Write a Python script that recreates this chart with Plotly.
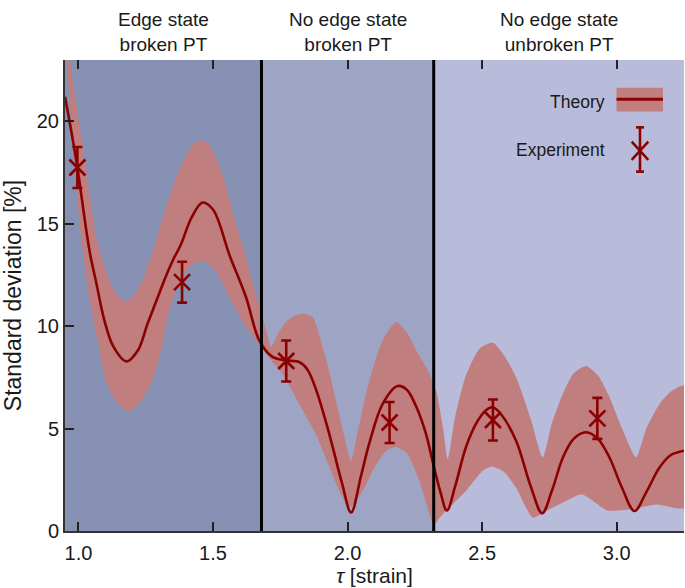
import plotly.graph_objects as go

# ---------------- data ----------------
theory_x = [0.950, 0.975, 0.996, 1.015, 1.030, 1.045, 1.065, 1.096, 1.130, 1.178,
            1.220, 1.257, 1.300, 1.319, 1.350, 1.381, 1.420, 1.461, 1.500, 1.561,
            1.622, 1.672, 1.721, 1.771, 1.820, 1.850, 1.883, 1.920, 1.945, 1.980,
            2.013, 2.050, 2.081, 2.130, 2.186, 2.220, 2.254, 2.290, 2.316, 2.345,
            2.369, 2.400, 2.440, 2.480, 2.514, 2.539, 2.570, 2.626, 2.680, 2.723,
            2.760, 2.800, 2.840, 2.886, 2.930, 2.973, 3.020, 3.066, 3.110, 3.159,
            3.200, 3.250]
theory_y = [21.2, 19.4, 17.75, 16.0, 14.6, 13.4, 12.2, 10.3, 9.0, 8.28,
            8.8, 10.13, 11.6, 12.25, 13.2, 14.0, 15.3, 16.04, 15.7, 13.48,
            11.44, 9.31, 8.5, 8.33, 8.25, 7.9, 6.9, 5.3, 4.08, 2.3,
            0.9, 2.7, 4.3, 6.2, 7.08, 6.9, 6.1, 4.8, 3.4, 1.9,
            1.0, 2.2, 4.1, 5.3, 5.9, 6.04, 5.7, 4.41, 2.2, 0.87,
            2.0, 3.59, 4.5, 4.82, 4.5, 3.59, 2.1, 0.98, 1.9, 3.1,
            3.7, 3.92]

upper_x = [0.950, 0.965, 0.990, 1.015, 1.040, 1.065, 1.090, 1.114, 1.145, 1.176,
           1.205, 1.238, 1.280, 1.330, 1.380, 1.420, 1.455, 1.490, 1.540, 1.580,
           1.616, 1.635, 1.660, 1.684, 1.697, 1.716, 1.740, 1.770, 1.808, 1.840,
           1.870, 1.920, 1.960, 1.990, 2.013, 2.040, 2.080, 2.130, 2.180, 2.220,
           2.260, 2.300, 2.330, 2.355, 2.372, 2.400, 2.440, 2.490, 2.539, 2.580,
           2.626, 2.680, 2.725, 2.760, 2.800, 2.840, 2.886, 2.930, 2.973, 3.020,
           3.072, 3.110, 3.159, 3.200, 3.250]
upper_y = [24.5, 23.3, 21.0, 18.9, 16.6, 14.46, 13.2, 12.25, 11.5, 11.19,
           11.5, 12.25, 13.8, 16.0, 17.8, 18.8, 19.08, 18.8, 17.2, 15.2,
           13.7, 12.75, 11.5, 10.46, 9.8, 9.0, 9.6, 10.2, 10.54, 10.6,
           10.45, 8.4, 6.2, 4.5, 3.43, 5.0, 7.3, 9.3, 10.21, 9.7,
           8.7, 7.8, 6.8, 5.0, 3.5, 5.6, 7.6, 8.9, 9.2, 8.6,
           7.52, 5.5, 3.59, 5.3, 6.7, 7.7, 8.06, 7.6, 6.54, 5.0,
           3.59, 5.0, 6.2, 6.8, 7.1]

lower_x = [0.950, 0.953, 0.980, 1.009, 1.040, 1.070, 1.102, 1.140, 1.186, 1.230,
           1.275, 1.310, 1.337, 1.380, 1.420, 1.465, 1.510, 1.560, 1.622, 1.678,
           1.718, 1.758, 1.820, 1.883, 1.930, 1.969, 2.006, 2.056, 2.100, 2.143,
           2.180, 2.220, 2.267, 2.300, 2.320, 2.345, 2.378, 2.440, 2.502, 2.535,
           2.580, 2.626, 2.688, 2.740, 2.800, 2.870, 2.930, 2.965, 3.050, 3.150,
           3.250]
lower_y = [23.5, 23.3, 18.9, 14.46, 11.44, 9.4, 7.35, 6.3, 5.83, 6.3,
           7.35, 9.0, 10.78, 12.3, 13.0, 13.19, 12.7, 11.44, 9.97, 9.0,
           8.3, 7.68, 6.2, 4.7, 3.2, 1.96, 1.14, 1.96, 3.1, 3.92,
           4.1, 3.8, 2.45, 1.0, 0.3, 0.7, 1.14, 1.96, 2.94, 3.15,
           2.9, 2.12, 0.65, 1.0, 1.39, 1.8, 1.3, 1.0, 1.06, 1.3,
           1.14]

exp_x = [0.996, 1.385, 1.772, 2.156, 2.540, 2.928]
exp_y = [17.75, 12.15, 8.30, 5.30, 5.42, 5.50]
exp_err = [1.0, 1.0, 1.0, 1.0, 1.0, 1.0]

region_edges = [0.95, 1.68, 2.32, 3.25]
region_labels = ["Edge state<br>broken PT", "No edge state<br>broken PT",
                 "No edge state<br>unbroken PT"]
region_colors = ["#8691B3", "#9EA5C4", "#B8BBDA"]

x_ticks = [1.0, 1.5, 2.0, 2.5, 3.0]
x_tick_labels = ["1.0", "1.5", "2.0", "2.5", "3.0"]
y_ticks = [0, 5, 10, 15, 20]
y_tick_labels = ["0", "5", "10", "15", "20"]

# ---------------- style ----------------
FONT = "Liberation Sans, Arial, Helvetica, sans-serif"
TXT = "#1a1a1a"
CURVE = "#8B0000"
BAND = "rgb(193,126,126)"

fig = go.Figure()

fig.add_trace(go.Scatter(
    x=upper_x + lower_x[::-1], y=upper_y + lower_y[::-1],
    fill="toself", fillcolor=BAND, mode="lines",
    line=dict(width=0, shape="spline", smoothing=0.6),
    hoverinfo="skip", showlegend=False))

fig.add_trace(go.Scatter(
    x=theory_x, y=theory_y, mode="lines",
    line=dict(color=CURVE, width=2.6, shape="spline", smoothing=1.0),
    showlegend=False))

fig.add_trace(go.Scatter(
    x=exp_x, y=exp_y, mode="markers",
    marker=dict(symbol="x-thin-open", size=16, color=CURVE,
                line=dict(color=CURVE, width=2.6)),
    error_y=dict(type="data", array=exp_err, visible=True,
                 color=CURVE, thickness=2.6, width=5),
    showlegend=False))

# helper trace so the mirrored top tick axis is drawn
fig.add_trace(go.Scatter(x=[region_edges[0]], y=[0], xaxis="x2", mode="markers",
                         marker=dict(opacity=0), hoverinfo="skip", showlegend=False))

shapes = []
for i in range(len(region_labels)):
    shapes.append(dict(type="rect", xref="x", yref="paper",
                       x0=region_edges[i], x1=region_edges[i + 1], y0=0, y1=1,
                       fillcolor=region_colors[i], line=dict(width=0), layer="below"))
for e in region_edges[1:-1]:
    shapes.append(dict(type="line", xref="x", yref="paper", x0=e, x1=e, y0=0, y1=1,
                       line=dict(color="black", width=3), layer="above"))

# legend keys (paper coords)
shapes.append(dict(type="rect", xref="paper", yref="paper", x0=0.891, x1=0.966,
                   y0=0.8907, y1=0.9412, fillcolor=BAND, line=dict(width=0)))
shapes.append(dict(type="line", xref="paper", yref="paper", x0=0.891, x1=0.966,
                   y0=0.9166, y1=0.9166, line=dict(color=CURVE, width=3)))
shapes.append(dict(type="line", xref="paper", yref="paper", x0=0.9289, x1=0.9289,
                   y0=0.763, y1=0.857, line=dict(color=CURVE, width=2.6)))
for yy in (0.763, 0.857):
    shapes.append(dict(type="line", xref="paper", yref="paper", x0=0.9225, x1=0.9353,
                       y0=yy, y1=yy, line=dict(color=CURVE, width=2.6)))
shapes.append(dict(type="line", xref="paper", yref="paper", x0=0.9155, x1=0.9423,
                   y0=0.7877, y1=0.8266, line=dict(color=CURVE, width=2.6)))
shapes.append(dict(type="line", xref="paper", yref="paper", x0=0.9155, x1=0.9423,
                   y0=0.8266, y1=0.7877, line=dict(color=CURVE, width=2.6)))

annotations = []
for i, lab in enumerate(region_labels):
    annotations.append(dict(x=(region_edges[i] + region_edges[i + 1]) / 2, xref="x",
                            y=1, yref="paper", yanchor="bottom", yshift=3,
                            text=lab, showarrow=False,
                            font=dict(family=FONT, size=19, color=TXT)))
annotations.append(dict(x=0.8756, y=0.9115, xref="paper", yref="paper",
                        xanchor="right", yanchor="middle", text="Theory",
                        showarrow=False, font=dict(family=FONT, size=17.5, color=TXT)))
annotations.append(dict(x=0.8756, y=0.809, xref="paper", yref="paper",
                        xanchor="right", yanchor="middle", text="Experiment",
                        showarrow=False, font=dict(family=FONT, size=17.5, color=TXT)))

fig.update_layout(
    width=685, height=588,
    margin=dict(l=65, r=1, t=60, b=57, autoexpand=False),
    paper_bgcolor="white", plot_bgcolor="white",
    font=dict(family=FONT, size=19, color=TXT),
    shapes=shapes, annotations=annotations, showlegend=False,
    xaxis=dict(range=[region_edges[0], region_edges[-1]], tickvals=x_ticks,
               ticktext=x_tick_labels, ticks="inside", ticklen=9, tickwidth=1.5,
               tickcolor="#222", showline=True, linecolor="#333", linewidth=2,
               showgrid=False, zeroline=False, automargin=False,
               ticklabelstandoff=3,
               tickfont=dict(family=FONT, size=20, color=TXT),
               title=dict(text="<i>τ</i> [strain]", standoff=2,
                          font=dict(family=FONT, size=21, color=TXT))),
    xaxis2=dict(range=[region_edges[0], region_edges[-1]], overlaying="x", side="top",
                tickvals=x_ticks, ticks="inside", ticklen=9, tickwidth=1.5,
                tickcolor="#222", showticklabels=False, showline=False,
                showgrid=False, zeroline=False, automargin=False),
    yaxis=dict(range=[0, 23], tickvals=y_ticks, ticktext=y_tick_labels,
               ticks="inside", ticklen=9, tickwidth=1.5, tickcolor="#222",
               showline=True, linecolor="#333", linewidth=2,
               showgrid=False, zeroline=False, automargin=False,
               tickfont=dict(family=FONT, size=20, color=TXT),
               title=dict(text="Standard deviation [%]", standoff=14,
                          font=dict(family=FONT, size=23, color=TXT))),
)

fig.write_html("out.html", config={"displayModeBar": False},
               post_script="document.body.style.margin='0';"
                           "document.body.style.overflow='hidden';")
